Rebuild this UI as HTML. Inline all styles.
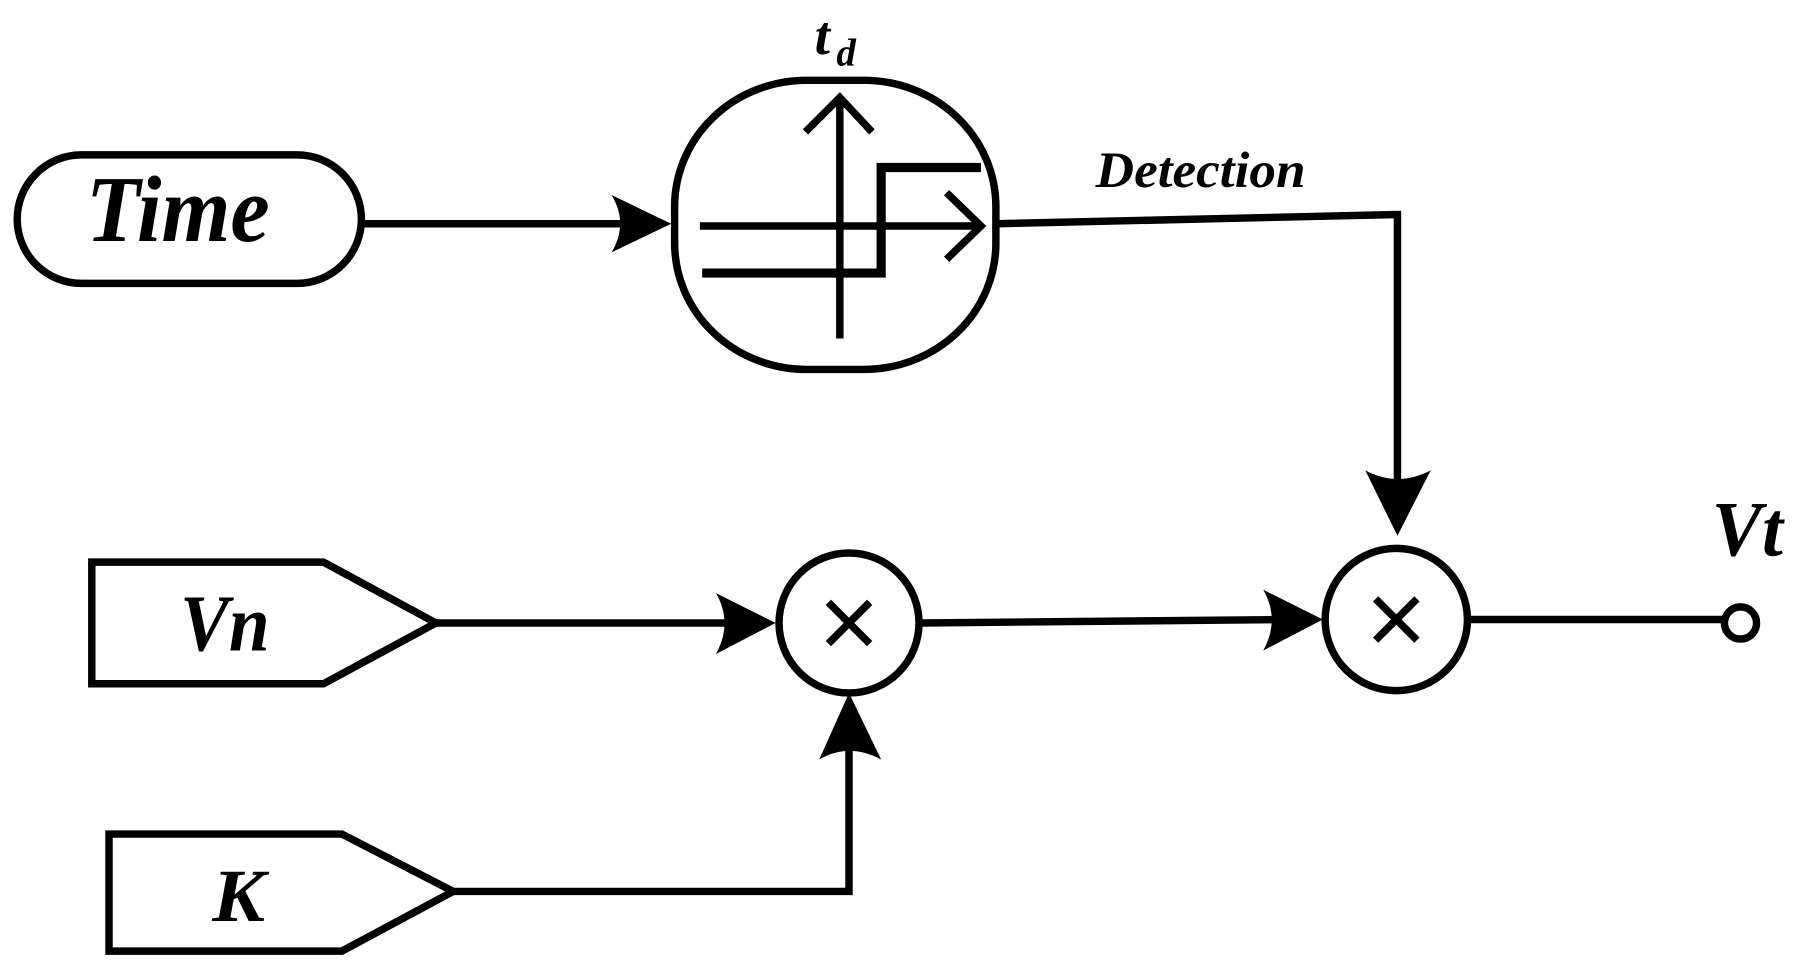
<!DOCTYPE html>
<html><head><style>html,body{margin:0;padding:0;background:#fff}svg{display:block}</style></head>
<body>
<svg width="1799" height="966" viewBox="0 0 1568 842" preserveAspectRatio="none" xmlns="http://www.w3.org/2000/svg">
<g fill="none" stroke="#000" stroke-width="6.5" stroke-linejoin="miter">
<rect x="15" y="135" width="300" height="112" rx="56"/>
<rect x="588" y="70" width="280" height="252" rx="115" ry="110"/>
<line x1="315" y1="195" x2="560" y2="195"/>
<line x1="732" y1="295" x2="732" y2="88"/>
<polyline points="702,115 732,85 760,115"/>
<line x1="610" y1="197" x2="852" y2="197"/>
<polyline points="825,168 855,197 825,226"/>
<polyline points="612,238 768,238 768,146 855,146" stroke-width="8"/>
<polyline points="868,195 1218,187 1218,430"/>
<polygon points="80,490 282,490 380,543 282,596 80,596"/>
<line x1="380" y1="543" x2="650" y2="543"/>
<circle cx="740" cy="543" r="61"/>
<line x1="722" y1="525" x2="758" y2="561"/>
<line x1="758" y1="525" x2="722" y2="561"/>
<polygon points="95,727 298,727 395,777 298,829 95,829"/>
<polyline points="395,777 740,777 740,640"/>
<line x1="802" y1="543" x2="1125" y2="540"/>
<circle cx="1217" cy="540" r="62"/>
<line x1="1199" y1="522" x2="1235" y2="558"/>
<line x1="1235" y1="522" x2="1199" y2="558"/>
<line x1="1279" y1="540" x2="1502" y2="540"/>
<circle cx="1517" cy="543" r="14"/>
</g>
<g fill="#000">
<path d="M585,195 L533,170 Q548,195 533,220 Z"/>
<path d="M676,543 L624,517 Q639,543 624,570 Z"/>
<path d="M1153,540 L1101,514 Q1116,540 1101,567 Z"/>
<path d="M1218,467 L1190,410 Q1218,425 1247,410 Z"/>
<path d="M740,604 L714,662 Q740,647 768,662 Z"/>
</g>
<g font-family="Liberation Serif, serif" font-weight="bold" font-style="italic" fill="#000">
<text x="75" y="210" font-size="82" textLength="160" lengthAdjust="spacingAndGlyphs">Time</text>
<text x="710" y="47" font-size="48">t</text>
<text x="729" y="57" font-size="34">d</text>
<text x="955" y="163" font-size="44" textLength="183" lengthAdjust="spacingAndGlyphs">Detection</text>
<text x="157" y="567" font-size="70" textLength="78" lengthAdjust="spacingAndGlyphs">Vn</text>
<text x="185" y="803" font-size="66" textLength="46" lengthAdjust="spacingAndGlyphs">K</text>
<text x="1492" y="484" font-size="68" textLength="62" lengthAdjust="spacingAndGlyphs">Vt</text>
</g>
</svg>
</body></html>
